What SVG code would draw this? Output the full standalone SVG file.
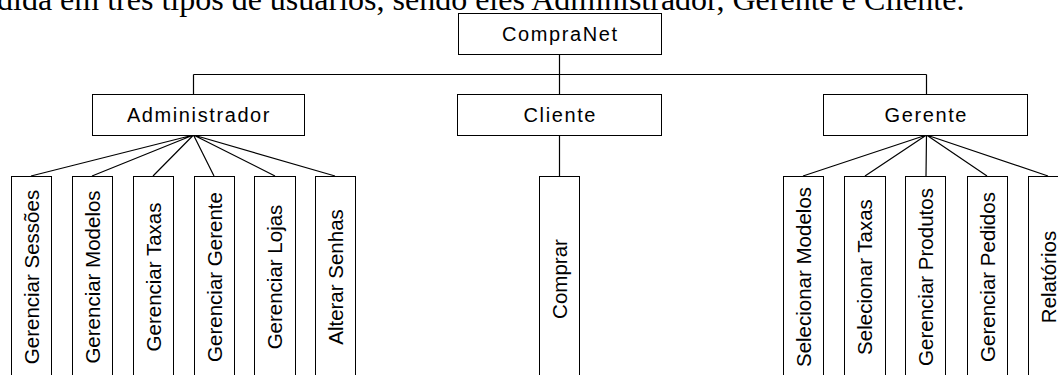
<svg xmlns="http://www.w3.org/2000/svg" width="1058" height="375" viewBox="0 0 1058 375">
<style>
.box{fill:#fff;stroke:#000;stroke-width:1}
.lbl{font-family:"Liberation Sans",Arial,sans-serif;font-size:20px;letter-spacing:1.6px;text-anchor:middle;fill:#000}
.vl{font-family:"Liberation Sans",Arial,sans-serif;font-size:20.5px;text-anchor:middle;fill:#000}
.con{stroke:#000;stroke-width:1.2;fill:none}
.cap{font-family:"Liberation Serif","Times New Roman",serif;font-size:32px;fill:#000}
</style>
<rect width="1058" height="375" fill="#fff"/>
<text class="cap" x="-3" y="10">dida em três tipos de usuários, sendo eles Administrador, Gerente e Cliente.</text>
<g id="connectors">
<path class="con" d="M559.5 54V74.5M193.5 74.5H926.5M193.5 74.5V94M559.5 74.5V94M926.5 74.5V94M559.5 135V176"/>
<path class="con" d="M193.5 135L31 176M193.5 135L92 176M193.5 135L153 176M193.5 135L214 176M193.5 135L275 176M193.5 135L335 176"/>
<path class="con" d="M926.5 135L803 176M926.5 135L865 176M926.5 135L926 176M926.5 135L987 176M926.5 135L1048 176"/>
</g>
<g id="compranet"><rect class="box" x="458.5" y="13.5" width="203" height="41"/><text class="lbl" x="560.3" y="41">CompraNet</text></g>
<g id="administrador"><rect class="box" x="92.5" y="94.5" width="212" height="41"/><text class="lbl" x="199" y="122">Administrador</text></g>
<g id="cliente"><rect class="box" x="457.5" y="94.5" width="204" height="41"/><text class="lbl" x="560.3" y="122">Cliente</text></g>
<g id="gerente"><rect class="box" x="823.5" y="94.5" width="204" height="41"/><text class="lbl" x="926.3" y="122">Gerente</text></g>
<g id="gerenciar-sessoes"><rect class="box" x="11.5" y="176.5" width="40" height="210"/><text class="vl" transform="translate(38.5 277) rotate(-90)">Gerenciar Sessões</text></g>
<g id="gerenciar-modelos"><rect class="box" x="72.5" y="176.5" width="40" height="210"/><text class="vl" transform="translate(99.5 277) rotate(-90)">Gerenciar Modelos</text></g>
<g id="gerenciar-taxas"><rect class="box" x="133.5" y="176.5" width="40" height="210"/><text class="vl" transform="translate(160.5 277) rotate(-90)">Gerenciar Taxas</text></g>
<g id="gerenciar-gerente"><rect class="box" x="194.5" y="176.5" width="40" height="210"/><text class="vl" transform="translate(221.5 277) rotate(-90)">Gerenciar Gerente</text></g>
<g id="gerenciar-lojas"><rect class="box" x="254.5" y="176.5" width="41" height="210"/><text class="vl" transform="translate(282 277) rotate(-90)">Gerenciar Lojas</text></g>
<g id="alterar-senhas"><rect class="box" x="315.5" y="176.5" width="40" height="210"/><text class="vl" transform="translate(342.5 277) rotate(-90)">Alterar Senhas</text></g>
<g id="comprar"><rect class="box" x="539.5" y="176.5" width="40" height="210"/><text class="vl" transform="translate(566.5 279) rotate(-90)">Comprar</text></g>
<g id="selecionar-modelos"><rect class="box" x="783.5" y="176.5" width="40" height="210"/><text class="vl" transform="translate(810.5 277) rotate(-90)">Selecionar Modelos</text></g>
<g id="selecionar-taxas"><rect class="box" x="844.5" y="176.5" width="41" height="210"/><text class="vl" transform="translate(872 277) rotate(-90)">Selecionar Taxas</text></g>
<g id="gerenciar-produtos"><rect class="box" x="905.5" y="176.5" width="40" height="210"/><text class="vl" transform="translate(932.5 277) rotate(-90)">Gerenciar Produtos</text></g>
<g id="gerenciar-pedidos"><rect class="box" x="967.5" y="176.5" width="40" height="210"/><text class="vl" transform="translate(994.5 277) rotate(-90)">Gerenciar Pedidos</text></g>
<g id="relatorios"><rect class="box" x="1028.5" y="176.5" width="40" height="210"/><text class="vl" transform="translate(1055.5 277) rotate(-90)">Relatórios</text></g>
</svg>
